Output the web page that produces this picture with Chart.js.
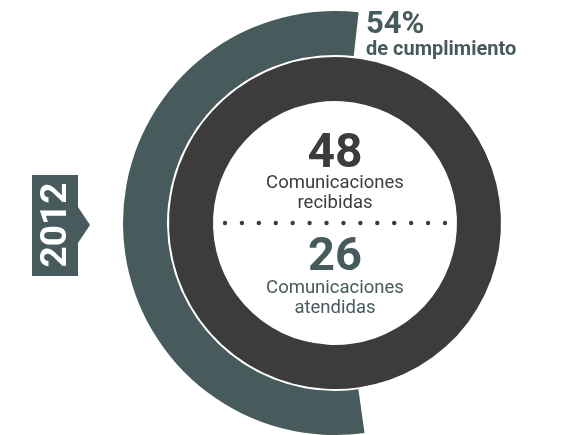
<!DOCTYPE html>
<html>
<head>
<meta charset="utf-8">
<script src="https://cdn.jsdelivr.net/npm/chart.js@4.4.0/dist/chart.umd.min.js"></script>
<style>
  html, body { margin: 0; padding: 0; background: #fff; overflow: hidden; }
  canvas { display: block; }
</style>
</head>
<body>
<canvas id="canvas" width="561" height="435"></canvas>
<script>
// datos 2012
const anio = '2012'
const recibidas = [48]
const atendidas = [26]
const cumplimiento = [54, 46]
const textoCumplimiento = 'de cumplimiento'
const textoRecibidas = ['Comunicaciones', 'recibidas']
const textoAtendidas = ['Comunicaciones', 'atendidas']

const teal = '#475a5c'
const dark = '#3c3c3c'
const font = 'Roboto, "Noto Sans", sans-serif'

// textos centrales, etiqueta del porcentaje y pestaña del año
const textos = {
  id: 'textos',
  afterDraw(chart) {
    const ctx = chart.ctx
    const arc = chart.getDatasetMeta(2).data[0]
    const cx = arc.x
    const cy = arc.y
    ctx.save()
    ctx.textBaseline = 'alphabetic'

    // porcentaje
    ctx.textAlign = 'left'
    ctx.fillStyle = teal
    ctx.font = 'bold 31px ' + font
    ctx.fillText(cumplimiento[0] + '%', cx + 31, cy - 190)
    ctx.font = 'bold 20px ' + font
    ctx.fillText(textoCumplimiento, cx + 31, cy - 168)

    // recibidas
    ctx.textAlign = 'center'
    ctx.fillStyle = dark
    ctx.font = 'bold 48px ' + font
    ctx.fillText(String(recibidas[0]), cx, cy - 56)
    ctx.font = '18.5px ' + font
    ctx.fillText(textoRecibidas[0], cx, cy - 35)
    ctx.fillText(textoRecibidas[1], cx, cy - 15)

    // línea de puntos
    for (let i = 0; i < 14; i++) {
      ctx.beginPath()
      ctx.arc(cx - 110 + i * (220 / 13), cy, 2.2, 0, Math.PI * 2)
      ctx.fill()
    }

    // atendidas
    ctx.fillStyle = teal
    ctx.font = 'bold 47px ' + font
    ctx.fillText(String(atendidas[0]), cx, cy + 47)
    ctx.font = '18.5px ' + font
    ctx.fillText(textoAtendidas[0], cx, cy + 70)
    ctx.fillText(textoAtendidas[1], cx, cy + 90)

    // pestaña del año
    const tx = cx - 303
    const ty = cy - 48
    ctx.fillStyle = teal
    ctx.fillRect(tx, ty, 46, 101)
    ctx.beginPath()
    ctx.moveTo(tx + 46, cy - 16)
    ctx.lineTo(tx + 58, cy + 2)
    ctx.lineTo(tx + 46, cy + 20)
    ctx.closePath()
    ctx.fill()
    ctx.translate(tx + 23, ty + 50)
    ctx.rotate(-Math.PI / 2)
    ctx.fillStyle = '#fff'
    ctx.textAlign = 'center'
    ctx.textBaseline = 'middle'
    ctx.font = 'bold 37px ' + font
    ctx.fillText(anio, 0, 2)
    ctx.restore()
  }
}

const canvas = document.getElementById('canvas')
const chart = new Chart(canvas, {
  type: 'doughnut',
  data: {
    labels: ['atendidas', 'pendientes'],
    datasets: [
      {
        data: cumplimiento,
        backgroundColor: [teal, 'rgba(0,0,0,0)'],
        weight: 44,
      },
      {
        data: [1],
        backgroundColor: ['rgba(0,0,0,0)'],
        weight: 2,
      },
      {
        data: recibidas,
        backgroundColor: [dark],
        weight: 44,
      },
    ],
  },
  options: {
    responsive: false,
    animation: false,
    rotation: 172,
    cutout: 122,
    borderWidth: 0,
    hoverOffset: 0,
    layout: { padding: { left: 123, right: 14, top: 11, bottom: 0 } },
    plugins: {
      legend: { display: false },
      tooltip: { enabled: false },
    },
    events: [],
  },
  plugins: [textos],
})
</script>
</body>
</html>
